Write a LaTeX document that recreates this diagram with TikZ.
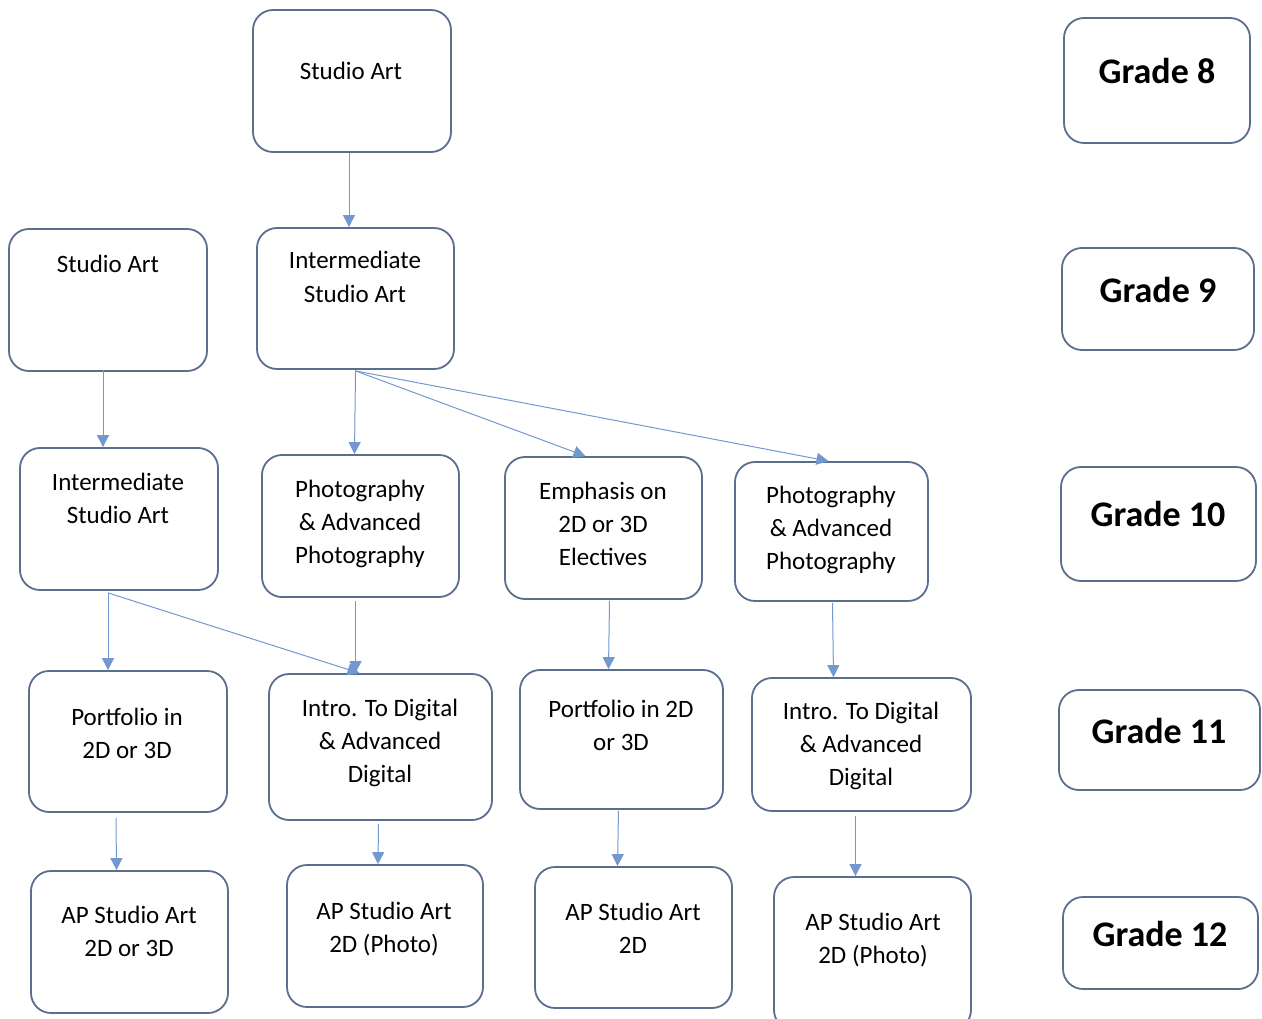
\documentclass[tikz,border=0pt]{standalone}
\usepackage{fontspec}
\setmainfont{Carlito}
\usetikzlibrary{arrows.meta}
\definecolor{boxc}{HTML}{5A6E8E}
\definecolor{arrc}{HTML}{7398D0}
\begin{document}
\begin{tikzpicture}[x=1pt,y=-1pt,
  box/.style={draw=boxc,line width=1.8pt,rounded corners=20pt,inner sep=0pt},
  txt/.style={font=\fontsize{25}{33}\selectfont,align=center,inner sep=0pt,anchor=base},
  gtxt/.style={font=\fontsize{36}{40}\selectfont\bfseries,inner sep=0pt,anchor=base},
  arr/.style={draw=arrc,line width=1pt,-{Triangle[length=12pt,width=12pt]}}]
\useasboundingbox (0,0) rectangle (1262,1019);
\newcommand\bx[5]{\node[box,minimum width={#3-#1},minimum height={#4-#2}] (#5) at ({(#1+#3)/2},{(#2+#4)/2}) {};}
% Grade 8
\bx{253}{10}{451}{152}{a8}
\node[txt] (ta8) at (351,80) {Studio Art};
\bx{1064}{18}{1250}{143}{g8}
\node[gtxt] (tg8) at (1157,84) {Grade 8};
% Grade 9
\bx{9}{229}{207}{371}{a9}
\node[txt] (ta9) at (108,273) {Studio Art};
\bx{257}{228}{454}{369}{b9}
\node[txt] (tb9) at (355,302) {Intermediate\\Studio Art};
\bx{1062}{248}{1254}{350}{g9}
\node[gtxt] (tg9) at (1158,302) {Grade 9};
% Grade 10
\bx{20}{448}{218}{590}{a10}
\node[txt] (ta10) at (118,523) {Intermediate\\Studio Art};
\bx{262}{455}{459}{597}{b10}
\node[txt] (tb10) at (360,563) {Photography\\\& Advanced\\Photography};
\bx{505}{457}{702}{599}{c10}
\node[txt] (tc10) at (603,565) {Emphasis on\\2D or 3D\\Electives};
\bx{735}{462}{928}{601}{d10}
\node[txt] (td10) at (831,569) {Photography\\\& Advanced\\Photography};
\bx{1061}{467}{1256}{581}{g10}
\node[gtxt] (tg10) at (1158,526) {Grade 10};
% Grade 11
\bx{29}{671}{227}{812}{a11}
\node[txt] (ta11) at (127,758) {Portfolio in\\2D or 3D};
\bx{269}{674}{492}{820}{b11}
\node[txt] (tb11) at (380,782) {Intro. To Digital\\\& Advanced\\Digital};
\bx{520}{670}{723}{809}{c11}
\node[txt] (tc11) at (621,750) {Portfolio in 2D\\or 3D};
\bx{752}{678}{971}{811}{d11}
\node[txt] (td11) at (861,785) {Intro. To Digital\\\& Advanced\\Digital};
\bx{1059}{690}{1260}{790}{g11}
\node[gtxt] (tg11) at (1159,743) {Grade 11};
% Grade 12
\bx{31}{871}{228}{1013}{a12}
\node[txt] (ta12) at (129,956) {AP Studio Art\\2D or 3D};
\bx{287}{865}{483}{1007}{b12}
\node[txt] (tb12) at (384,952) {AP Studio Art\\2D (Photo)};
\bx{535}{867}{732}{1008}{c12}
\node[txt] (tc12) at (633,953) {AP Studio Art\\2D};
\bx{774}{877}{971}{1030}{d12}
\node[txt] (td12) at (873,963) {AP Studio Art\\2D (Photo)};
\bx{1063}{897}{1258}{989}{g12}
\node[gtxt] (tg12) at (1160,946) {Grade 12};
% arrows
\draw[arr] ([xshift=-3pt]a8.south) -- ([xshift=-3pt]a8.south |- b9.north);
\draw[arr] ([xshift=-5pt,yshift=2pt]a9.south) -- ([xshift=-5pt]a9.south |- a10.north);
\coordinate (o9) at ([yshift=-1pt]b9.south);
\draw[arr] (o9) -- ([xshift=-6pt]b10.north);
\draw[arr] (o9) -- ([xshift=-18pt]c10.north);
\draw[arr] (o9) -- ([xshift=-3pt]d10.north);
\coordinate (o10) at ([xshift=-11pt,yshift=-2pt]a10.south);
\draw[arr] (o10) -- (o10 |- a11.north);
\draw[arr] (o10) -- ([xshift=-21pt]b11.north);
\draw[arr] ([xshift=-5pt,yshift=-3pt]b10.south) -- ([xshift=-25pt]b11.north);
\draw[arr] ([xshift=6pt,yshift=-1pt]c10.south) -- ([xshift=-13pt]c11.north);
\draw[arr] ([xshift=1pt,yshift=-1pt]d10.south) -- ([xshift=-28pt]d11.north);
\draw[arr] ([xshift=-12pt,yshift=-5pt]a11.south) -- ([xshift=-13pt]a12.north);
\draw[arr] ([xshift=-2pt,yshift=-3pt]b11.south) -- ([xshift=-7pt]b12.north);
\draw[arr] ([xshift=-3pt,yshift=-1pt]c11.south) -- ([xshift=-16pt]c12.north);
\draw[arr] ([xshift=-6pt,yshift=-4pt]d11.south) -- ([xshift=-17pt]d12.north);
\end{tikzpicture}
\end{document}
